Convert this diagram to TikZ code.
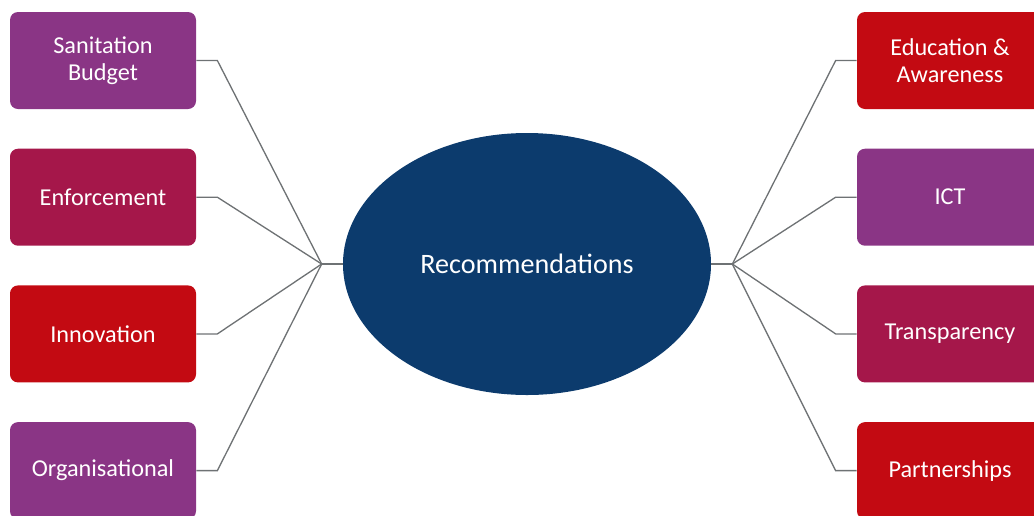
\documentclass[tikz,border=0pt]{standalone}
\usepackage{fontspec}
\setmainfont{Carlito}
\usetikzlibrary{positioning, shapes.geometric}

\definecolor{plum}{HTML}{8A3585}
\definecolor{wine}{HTML}{A5174A}
\definecolor{scarlet}{HTML}{C30A12}
\definecolor{navy}{HTML}{0C3B6D}
\definecolor{wire}{HTML}{6E7274}

\begin{document}
\begin{tikzpicture}[
        node distance=0.78cm,
        topic/.style={draw=none, rectangle, rounded corners=0.16cm, minimum width=3.72cm, minimum height=1.94cm, text=white, font=\fontsize{13.8}{15.5}\selectfont, align=center},
        hub/.style={ellipse, fill=navy, minimum width=7.36cm, minimum height=5.24cm, text=white, font=\fontsize{16}{19}\selectfont},
        link/.style={draw=wire, line width=0.75pt}
    ]
    \useasboundingbox (0,0) rectangle (20.68,-10.3);

    % Centre
    \node[hub] (Rec) at (10.54,-5.28) {Recommendations};

    % Left column
    \node[topic, fill=plum] (Budget) at (2.06,-1.21) {Sanitation\\Budget};
    \node[topic, fill=wine, below=of Budget] (Enforce) {Enforcement};
    \node[topic, fill=scarlet, below=of Enforce] (Innov) {Innovation};
    \node[topic, fill=plum, below=of Innov] (Organ) {Organisational};

    % Right column
    \node[topic, fill=scarlet] (Educ) at (19.0,-1.21) {Education \&\\Awareness};
    \node[topic, fill=plum, below=of Educ] (ICT) {ICT};
    \node[topic, fill=wine, below=of ICT] (Transp) {Transparency};
    \node[topic, fill=scarlet, below=of Transp] (Partner) {Partnerships};

    % Junctions
    \coordinate (LJ) at ([xshift=-0.42cm]Rec.west);
    \coordinate (RJ) at ([xshift=0.42cm]Rec.east);

    % Connectors
    \draw[link] (Rec.west) -- (LJ);
    \draw[link] (Rec.east) -- (RJ);
    \draw[link] (Budget.east) -- ++(0.42,0) -- (LJ);
    \draw[link] (Enforce.east) -- ++(0.42,0) -- (LJ);
    \draw[link] (Innov.east) -- ++(0.42,0) -- (LJ);
    \draw[link] (Organ.east) -- ++(0.42,0) -- (LJ);
    \draw[link] (Educ.west) -- ++(-0.42,0) -- (RJ);
    \draw[link] (ICT.west) -- ++(-0.42,0) -- (RJ);
    \draw[link] (Transp.west) -- ++(-0.42,0) -- (RJ);
    \draw[link] (Partner.west) -- ++(-0.42,0) -- (RJ);

\end{tikzpicture}
\end{document}
